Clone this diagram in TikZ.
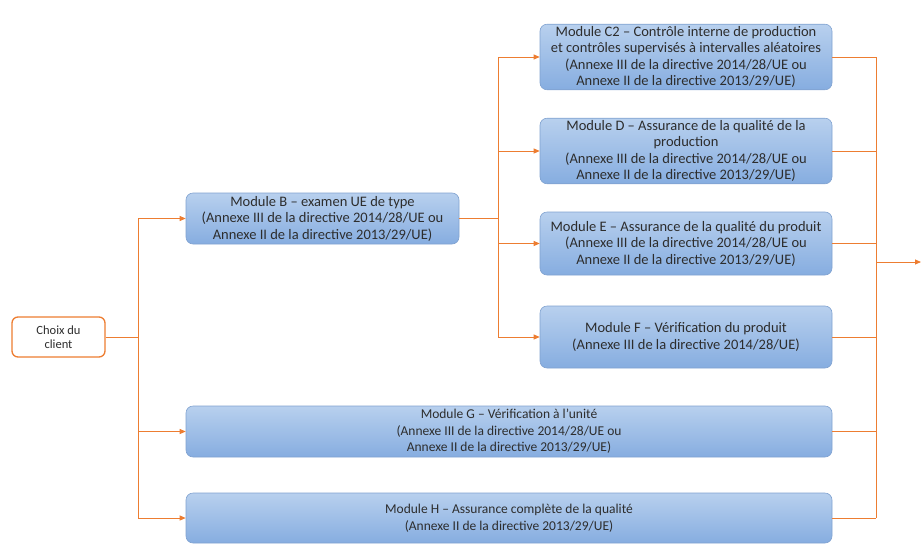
\documentclass[tikz,border=0pt]{standalone}
\usepackage{fontspec}
\setmainfont{Carlito}
\usetikzlibrary{arrows.meta}
\definecolor{orangeline}{RGB}{237,125,49}
\definecolor{boxtop}{RGB}{184,208,238}
\definecolor{boxbot}{RGB}{134,173,224}
\definecolor{boxedge}{RGB}{128,162,208}
\definecolor{txt}{RGB}{45,45,45}
\tikzset{
  modbox/.style={rounded corners=7pt, draw=boxedge, line width=0.6pt, top color=boxtop, bottom color=boxbot,
    align=center, text=txt, inner sep=2pt, font=\fontsize{14.5}{16.5}\selectfont},
  widebox/.style={modbox, font=\fontsize{13.5}{16.5}\selectfont},
  choixbox/.style={rounded corners=6pt, draw=orangeline, line width=1.3pt, fill=white,
    align=center, text=txt, font=\fontsize{12.5}{13.5}\selectfont},
  link/.style={draw=orangeline, line width=0.8pt},
  arr/.style={link, -{Triangle[length=6pt,width=5pt]}}
}
\begin{document}
\begin{tikzpicture}[x=1pt,y=-1pt]
\useasboundingbox (0,0) rectangle (921,544);
\node[choixbox, minimum width=93pt, minimum height=40pt] (choix) at (58.5,337) {Choix du\\client};
\node[modbox, minimum width=273pt, minimum height=51pt] (B) at (322.5,218.5) {Module B – examen UE de type\\(Annexe III de la directive 2014/28/UE ou\\Annexe II de la directive 2013/29/UE)};
\node[modbox, minimum width=292pt, minimum height=62pt] (C2) at (686,57) {Module C2 – Contrôle interne de production\\et contrôles supervisés à intervalles aléatoires\\(Annexe III de la directive 2014/28/UE ou\\Annexe II de la directive 2013/29/UE)};
\node[modbox, minimum width=292pt, minimum height=62pt] (D) at (686,151) {Module D – Assurance de la qualité de la\\production\\(Annexe III de la directive 2014/28/UE ou\\Annexe II de la directive 2013/29/UE)};
\node[modbox, minimum width=292pt, minimum height=63pt] (E) at (686,243.5) {Module E – Assurance de la qualité du produit\\(Annexe III de la directive 2014/28/UE ou\\Annexe II de la directive 2013/29/UE)};
\node[modbox, minimum width=292pt, minimum height=62pt] (F) at (686,337) {Module F – Vérification du produit\\(Annexe III de la directive 2014/28/UE)};
\node[widebox, minimum width=646pt, minimum height=51pt] (G) at (509,431.5) {Module G – Vérification à l’unité\\(Annexe III de la directive 2014/28/UE ou\\Annexe II de la directive 2013/29/UE)};
\node[widebox, minimum width=646pt, minimum height=50pt] (H) at (509,518) {Module H – Assurance complète de la qualité\\(Annexe II de la directive 2013/29/UE)};
% left trunk
\coordinate (t1) at (138,0);
\coordinate (t2) at (498,0);
\coordinate (t3) at (876,0);
\coordinate (out) at (921,262);
\draw[link] (choix.east) -- (choix.east -| t1);
\draw[link] (t1 |- B.west) -- (t1 |- H.west);
\draw[arr] (t1 |- B.west) -- (B.west);
\draw[arr] (t1 |- G.west) -- (G.west);
\draw[arr] (t1 |- H.west) -- (H.west);
% middle trunk
\draw[link] (B.east) -- (B.east -| t2);
\draw[link] (t2 |- C2.west) -- (t2 |- F.west);
\draw[arr] (t2 |- C2.west) -- (C2.west);
\draw[arr] (t2 |- D.west) -- (D.west);
\draw[arr] (t2 |- E.west) -- (E.west);
\draw[arr] (t2 |- F.west) -- (F.west);
% right trunk
\draw[link] (C2.east) -- (C2.east -| t3);
\draw[link] (D.east) -- (D.east -| t3);
\draw[link] (E.east) -- (E.east -| t3);
\draw[link] (F.east) -- (F.east -| t3);
\draw[link] (G.east) -- (G.east -| t3);
\draw[link] (H.east) -- (H.east -| t3);
\draw[link] (t3 |- C2.east) -- (t3 |- H.east);
\draw[arr] (t3 |- out) -- (out);
\end{tikzpicture}
\end{document}
